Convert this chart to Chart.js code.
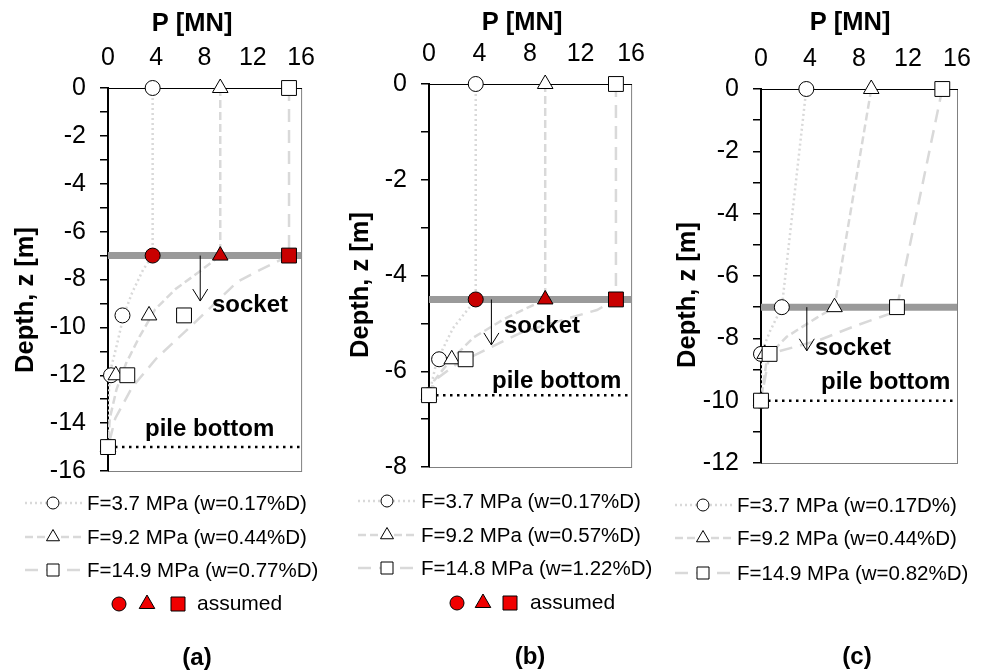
<!DOCTYPE html>
<html>
<head>
<meta charset="utf-8">
<script src="https://cdn.jsdelivr.net/npm/chart.js@4.4.0/dist/chart.umd.min.js"></script>
<style>
  html, body { margin: 0; padding: 0; background: #fff; }
  #wrap { position: relative; width: 986px; height: 672px; }
  canvas { position: absolute; top: 0; }
</style>
</head>
<body>
<div id="wrap">
  <canvas id="chartA" width="330" height="672" style="left:0"></canvas>
  <canvas id="chartB" width="330" height="672" style="left:330px"></canvas>
  <canvas id="chartC" width="326" height="672" style="left:660px"></canvas>
</div>
<script>
// ---- panel (a) ----
const aMarkDepth = [0, -9.5, -12, -15];
const aCircleP = [3.7, 1.2, 0.25, 0];
const aTriangleP = [9.3, 3.4, 0.65, 0];
const aSquareP = [15.0, 6.3, 1.6, 0];
const aSocketDepth = -7;
const aAssumedP = [3.7, 9.3, 15.0];
const aPileBottom = -15;
const aCircleCurveZ = [0, -7, -7.6, -8.55, -9.5, -10.8, -11.9, -13.5, -15];
const aCircleCurveP = [3.7, 3.7, 2.9, 2.0, 1.3, 0.7, 0.15, 0, 0];
const aTriangleCurveZ = [0, -7, -7.7, -8.4, -9.25, -10.4, -11.5, -12.6, -13.8, -15];
const aTriangleCurveP = [9.3, 9.3, 7.5, 5.6, 3.9, 2.6, 1.5, 0.7, 0.15, 0];
const aSquareCurveZ = [0, -7, -7.6, -8.1, -9.7, -11.3, -12.5, -13.8, -15];
const aSquareCurveP = [15.0, 15.0, 12.6, 10.7, 7.4, 4.0, 2.0, 0.6, 0];
const aLegendLabels = ['F=3.7 MPa (w=0.17%D)', 'F=9.2 MPa (w=0.44%D)', 'F=14.9 MPa (w=0.77%D)'];

// ---- panel (b) ----
const bMarkDepth = [0, -5.75, -6.5];
const bCircleP = [3.7, 0.8, 0];
const bTriangleP = [9.2, 1.8, 0];
const bSquareP = [14.8, 2.9, 0];
const bSocketDepth = -4.5;
const bAssumedP = [3.7, 9.2, 14.8];
const bPileBottom = -6.5;
const bCircleCurveZ = [0, -4.5, -5.1, -5.8, -6.5];
const bCircleCurveP = [3.7, 3.7, 1.9, 0.6, 0];
const bTriangleCurveZ = [0, -4.5, -4.9, -5.3, -5.8, -6.2, -6.5];
const bTriangleCurveP = [9.2, 9.2, 6.0, 3.5, 1.6, 0.4, 0];
const bSquareCurveZ = [0, -4.5, -4.72, -4.89, -5.18, -5.5, -5.83, -6.14, -6.5];
const bSquareCurveP = [14.8, 14.8, 13.3, 11.1, 7.4, 4.9, 2.3, 0.7, 0];
const bLegendLabels = ['F=3.7 MPa (w=0.17%D)', 'F=9.2 MPa (w=0.57%D)', 'F=14.8 MPa (w=1.22%D)'];

// ---- panel (c) ----
const cMarkDepth = [0, -7, -8.5, -10];
const cCircleP = [3.7, 1.7, 0, 0];
const cTriangleP = [9.0, 6.0, 0.3, 0];
const cSquareP = [14.8, 11.1, 0.7, 0];
const cSocketDepth = -7;
const cAssumedP = [];
const cPileBottom = -10;
const cCircleCurveZ = [0, -7, -7.8, -8.5, -10];
const cCircleCurveP = [3.7, 1.7, 0.7, 0, 0];
const cTriangleCurveZ = [0, -7, -7.35, -7.95, -8.6, -10];
const cTriangleCurveP = [9.0, 6.0, 4.5, 2.1, 0.5, 0];
const cSquareCurveZ = [0, -7, -7.2, -7.6, -8.05, -8.5, -10];
const cSquareCurveP = [14.8, 11.1, 10.6, 7.7, 4.8, 0.7, 0];
const cLegendLabels = ['F=3.7 MPa (w=0.17D%)', 'F=9.2 MPa (w=0.44%D)', 'F=14.9 MPa (w=0.82%D)'];

const FONT = "'Liberation Sans', Arial, sans-serif";
const LINE_GREY = '#d9d9d9';
const DASHES = [[2, 3], [8, 4], [13, 8]];
const STYLES = ['circle', 'triangle', 'rect'];
const RADII = [7.5, 9, 10.5];

Chart.defaults.font.family = FONT;

function pts(ps, zs) {
  return zs.map((z, i) => ({ x: ps[i], y: z }));
}

function drawMarker(ctx, style, x, y, r, fill) {
  ctx.beginPath();
  if (style === 'circle') ctx.arc(x, y, r, 0, Math.PI * 2);
  else if (style === 'triangle') {
    ctx.moveTo(x, y - r);
    ctx.lineTo(x + r * 0.866, y + r * 0.5);
    ctx.lineTo(x - r * 0.866, y + r * 0.5);
    ctx.closePath();
  } else ctx.rect(x - r, y - r, 2 * r, 2 * r);
  ctx.fillStyle = fill;
  ctx.fill();
  ctx.lineWidth = 1;
  ctx.strokeStyle = '#000';
  ctx.stroke();
}

function makePanel(id, p) {
  const canvas = document.getElementById(id);
  const W = canvas.width, H = canvas.height;
  const markers = [p.circleP, p.triangleP, p.squareP];
  const curves = [[p.circleCurveP, p.circleCurveZ], [p.triangleCurveP, p.triangleCurveZ], [p.squareCurveP, p.squareCurveZ]];

  const datasets = [];
  datasets.push({
    data: p.assumedP.map(x => ({ x: x, y: p.socket })),
    pointStyle: STYLES, pointRadius: RADII,
    backgroundColor: '#c80000', borderColor: '#000', borderWidth: 1,
    showLine: false, order: 0, clip: false
  });
  [2, 1, 0].forEach((k, j) => {
    datasets.push({
      data: pts(markers[k], p.markDepth),
      pointStyle: STYLES[k], pointRadius: RADII[k],
      backgroundColor: '#fff', borderColor: '#000', borderWidth: 1,
      showLine: false, order: 1 + j, clip: false
    });
  });
  curves.forEach((c, k) => {
    datasets.push({
      data: pts(c[0], c[1]),
      showLine: true, pointRadius: 0, borderColor: LINE_GREY, borderWidth: 2.5,
      borderDash: DASHES[k], tension: 0, order: 5 + k
    });
  });
  datasets.push({
    data: [{ x: 0, y: p.pileBottom }, { x: 16, y: p.pileBottom }],
    showLine: true, pointRadius: 0, borderColor: '#000', borderWidth: 2.5,
    borderDash: [2.5, 4.5], order: 9
  });
  datasets.push({
    data: [{ x: 0, y: p.socket }, { x: 16, y: p.socket }],
    showLine: true, pointRadius: 0, borderColor: '#9a9a9a', borderWidth: 7,
    borderCapStyle: 'butt', order: 10, clip: false
  });

  const decor = {
    id: 'decor',
    beforeDraw(chart) {
      const { ctx, chartArea: a } = chart;
      ctx.save();
      ctx.strokeStyle = '#808080';
      ctx.lineWidth = 1;
      ctx.strokeRect(a.left + 0.5, a.top + 0.5, a.right - a.left, a.bottom - a.top);
      ctx.restore();
    },
    afterDatasetsDraw(chart) {
      const { ctx, scales } = chart;
      const ax = scales.x.getPixelForValue(p.arrow[0]);
      const y0 = scales.y.getPixelForValue(p.socket);
      const y1 = scales.y.getPixelForValue(p.arrow[1]);
      ctx.save();
      ctx.strokeStyle = '#000';
      ctx.lineWidth = 1;
      ctx.beginPath();
      ctx.moveTo(ax + 0.5, y0);
      ctx.lineTo(ax + 0.5, y1);
      ctx.moveTo(ax - 7, y1 - 12);
      ctx.lineTo(ax + 0.5, y1);
      ctx.lineTo(ax + 8, y1 - 12);
      ctx.stroke();
      ctx.restore();
    },
    afterDraw(chart) {
      const ctx = chart.ctx;
      ctx.save();
      ctx.fillStyle = '#000';
      // axis titles
      ctx.font = 'bold 25.5px ' + FONT;
      ctx.textAlign = 'center';
      ctx.textBaseline = 'middle';
      ctx.fillText('P [MN]', p.pTitle[0], p.pTitle[1]);
      ctx.save();
      ctx.translate(p.zTitle[0], p.zTitle[1]);
      ctx.rotate(-Math.PI / 2);
      ctx.fillText('Depth, z [m]', 0, 0);
      ctx.restore();
      // annotations
      ctx.font = 'bold 24px ' + FONT;
      ctx.textAlign = 'left';
      ctx.textBaseline = 'alphabetic';
      ctx.fillText('socket', p.socketText[0], p.socketText[1]);
      ctx.fillText('pile bottom', p.bottomText[0], p.bottomText[1]);
      // panel label
      ctx.textAlign = 'center';
      ctx.textBaseline = 'middle';
      ctx.fillText(p.tag, p.tagPos[0], p.tagPos[1]);
      // legend
      const L = p.legend;
      ctx.font = '20.5px ' + FONT;
      ctx.textAlign = 'left';
      p.labels.forEach((txt, k) => {
        const y = L.rows[k];
        ctx.save();
        ctx.strokeStyle = LINE_GREY;
        ctx.lineWidth = 2.5;
        ctx.setLineDash(DASHES[k]);
        ctx.beginPath();
        ctx.moveTo(L.x1, y);
        ctx.lineTo(L.x2, y);
        ctx.stroke();
        ctx.restore();
        drawMarker(ctx, STYLES[k], L.mx, y, [6, 7.5, 6][k], '#fff');
        ctx.fillStyle = '#000';
        ctx.fillText(txt, L.tx, y + 1);
      });
      if (L.assumed) {
        const A = L.assumed;
        STYLES.forEach((s, k) => drawMarker(ctx, s, A.xs[k], A.y, [7, 9, 7][k], '#f00000'));
        ctx.fillStyle = '#000';
        ctx.font = '21px ' + FONT;
        ctx.fillText('assumed', A.tx, A.y);
      }
      ctx.restore();
    }
  };

  return new Chart(canvas, {
    type: 'scatter',
    data: { datasets },
    plugins: [decor],
    options: {
      responsive: false,
      animation: false,
      layout: { padding: { left: 0, top: 0, right: W - p.area.right, bottom: H - p.area.bottom } },
      plugins: { legend: { display: false }, tooltip: { enabled: false } },
      scales: {
        x: {
          type: 'linear', position: 'top', min: 0, max: 16,
          ticks: { stepSize: 4, font: { size: 25 }, color: '#000', padding: 15 },
          grid: { drawOnChartArea: false, drawTicks: false },
          border: { color: '#000', width: 1 },
          afterFit(s) { s.height = p.area.top; }
        },
        y: {
          type: 'linear', position: 'left', min: p.yMin, max: 0,
          ticks: {
            stepSize: 1, autoSkip: false, font: { size: 25 }, color: '#000', padding: 14,
            callback: v => (v % 2 === 0 ? String(v) : '')
          },
          grid: { drawOnChartArea: false, drawTicks: true, tickLength: 8, color: '#000', lineWidth: 1.5 },
          border: { color: '#000', width: 2 },
          afterFit(s) { s.width = p.area.left; }
        }
      }
    }
  });
}

makePanel('chartA', {
  markDepth: aMarkDepth, circleP: aCircleP, triangleP: aTriangleP, squareP: aSquareP,
  socket: aSocketDepth, assumedP: aAssumedP, pileBottom: aPileBottom,
  circleCurveP: aCircleCurveP, circleCurveZ: aCircleCurveZ,
  triangleCurveP: aTriangleCurveP, triangleCurveZ: aTriangleCurveZ,
  squareCurveP: aSquareCurveP, squareCurveZ: aSquareCurveZ,
  labels: aLegendLabels, yMin: -16, arrow: [7.6, -8.9],
  area: { left: 108, right: 306, top: 88, bottom: 471 },
  pTitle: [192, 24], zTitle: [26, 300], socketText: [212, 312], bottomText: [145, 436],
  tag: '(a)', tagPos: [197, 658],
  legend: { x1: 25, x2: 82, mx: 53, tx: 87, rows: [503, 537, 570],
            assumed: { xs: [119, 147, 178], y: 604, tx: 197 } }
});

makePanel('chartB', {
  markDepth: bMarkDepth, circleP: bCircleP, triangleP: bTriangleP, squareP: bSquareP,
  socket: bSocketDepth, assumedP: bAssumedP, pileBottom: bPileBottom,
  circleCurveP: bCircleCurveP, circleCurveZ: bCircleCurveZ,
  triangleCurveP: bTriangleCurveP, triangleCurveZ: bTriangleCurveZ,
  squareCurveP: bSquareCurveP, squareCurveZ: bSquareCurveZ,
  labels: bLegendLabels, yMin: -8, arrow: [4.9, -5.45],
  area: { left: 99, right: 304, top: 84, bottom: 467 },
  pTitle: [192, 23], zTitle: [31, 285], socketText: [174, 333], bottomText: [162, 388],
  tag: '(b)', tagPos: [200, 657],
  legend: { x1: 28, x2: 87, mx: 57, tx: 91, rows: [501, 535, 568],
            assumed: { xs: [127, 153, 180], y: 603, tx: 200 } }
});

makePanel('chartC', {
  markDepth: cMarkDepth, circleP: cCircleP, triangleP: cTriangleP, squareP: cSquareP,
  socket: cSocketDepth, assumedP: cAssumedP, pileBottom: cPileBottom,
  circleCurveP: cCircleCurveP, circleCurveZ: cCircleCurveZ,
  triangleCurveP: cTriangleCurveP, triangleCurveZ: cTriangleCurveZ,
  squareCurveP: cSquareCurveP, squareCurveZ: cSquareCurveZ,
  labels: cLegendLabels, yMin: -12, arrow: [3.7, -8.4],
  area: { left: 101, right: 297, top: 89, bottom: 463 },
  pTitle: [190, 23], zTitle: [28, 295], socketText: [155, 355], bottomText: [161, 389],
  tag: '(c)', tagPos: [197, 657],
  legend: { x1: 15, x2: 72, mx: 43, tx: 77, rows: [505, 538, 573], assumed: null }
});
</script>
</body>
</html>
